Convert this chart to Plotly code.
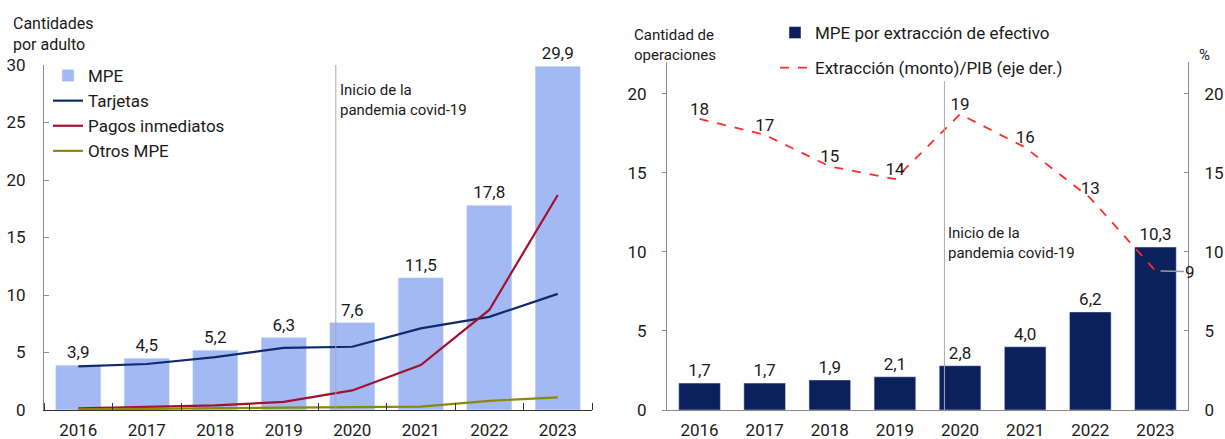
import plotly.graph_objects as go

years = ["2016", "2017", "2018", "2019", "2020", "2021", "2022", "2023"]

# Left chart
mpe = [3.9, 4.5, 5.2, 6.3, 7.6, 11.5, 17.8, 29.9]
tarjetas = [3.8, 4.0, 4.6, 5.4, 5.5, 7.1, 8.1, 10.1]
pagos_inmediatos = [0.15, 0.25, 0.4, 0.7, 1.7, 3.9, 8.7, 18.7]
otros_mpe = [0.05, 0.1, 0.15, 0.2, 0.25, 0.3, 0.8, 1.1]

# Right chart
mpe_extraccion = [1.7, 1.7, 1.9, 2.1, 2.8, 4.0, 6.2, 10.3]
extraccion_pib = [18.4, 17.4, 15.4, 14.6, 18.7, 16.6, 13.4, 8.8]
extraccion_labels = ["18", "17", "15", "14", "19", "16", "13", "9"]

idx = list(range(len(years)))

FONT = "Roboto"
TXT = "#1a1a1a"
AX = "#8c8c8c"
FS = 17

fig = go.Figure()

fig.add_trace(go.Bar(x=idx, y=mpe, name="MPE", marker_color="#A2B9F4",
                     width=0.66, texttemplate="%{y:.1f}", textposition="outside",
                     textfont=dict(size=FS, color=TXT), cliponaxis=False,
                     xaxis="x", yaxis="y", legend="legend"))
fig.add_trace(go.Scatter(x=idx, y=tarjetas, name="Tarjetas", mode="lines",
                         line=dict(color="#10296B", width=2.2), xaxis="x", yaxis="y", legend="legend"))
fig.add_trace(go.Scatter(x=idx, y=pagos_inmediatos, name="Pagos inmediatos", mode="lines",
                         line=dict(color="#A4112F", width=2.2), xaxis="x", yaxis="y", legend="legend"))
fig.add_trace(go.Scatter(x=idx, y=otros_mpe, name="Otros MPE", mode="lines",
                         line=dict(color="#8C8A00", width=2.2), xaxis="x", yaxis="y", legend="legend"))

fig.add_trace(go.Bar(x=idx, y=mpe_extraccion, name="MPE por extracción de efectivo",
                     marker_color="#0B205C", width=0.64, texttemplate="%{y:.1f}",
                     textposition="outside", textfont=dict(size=FS, color=TXT),
                     cliponaxis=False, xaxis="x2", yaxis="y2", legend="legend2",
                     legendgroup="a"))
line_text = extraccion_labels[:-1] + [""]
fig.add_trace(go.Scatter(x=idx, y=extraccion_pib, name="Extracción (monto)/PIB (eje der.)",
                         mode="lines+text", text=line_text, textposition="top center",
                         textfont=dict(size=FS, color=TXT),
                         line=dict(color="#FF2A2A", width=1.8, dash="dash"),
                         cliponaxis=False, xaxis="x2", yaxis="y3", legend="legend2",
                         legendgroup="b"))

# last point label with leader
fig.add_annotation(x=idx[-1], y=extraccion_pib[-1], xref="x2", yref="y3",
                   text=extraccion_labels[-1], showarrow=True, arrowhead=0,
                   arrowcolor="#9a9a9a", arrowwidth=1.5, ax=35, ay=1, standoff=5,
                   font=dict(size=FS, color=TXT))

ydom = [29 / 439, (439 - 65) / 439]
ydom2 = [29 / 439, (439 - 62) / 439]

fig.update_layout(
    width=1225, height=439,
    margin=dict(l=0, r=0, t=0, b=0, autoexpand=False),
    paper_bgcolor="white", plot_bgcolor="white",
    font=dict(family=FONT, color=TXT, size=FS),
    separators=",.",
    showlegend=True,
    xaxis=dict(domain=[44 / 1225, 592 / 1225], range=[-0.5, 7.5],
               tickvals=idx, ticktext=years, ticks="", showline=True,
               linecolor="#333", linewidth=1.2, tickfont=dict(size=FS), showgrid=False,
               zeroline=False, ticklabelstandoff=4,
               minor=dict(tick0=0.5, dtick=1, ticks="inside", ticklen=7, tickcolor="#333",
                          showgrid=False),
               anchor="y"),
    yaxis=dict(domain=ydom, range=[0, 30], dtick=5, showline=True, linecolor=AX,
               ticks="inside", ticklen=5, tickcolor=AX, tickfont=dict(size=FS),
               showgrid=False, zeroline=False, anchor="x", ticklabelstandoff=14),
    xaxis2=dict(domain=[667 / 1225, 1188 / 1225], range=[-0.5, 7.5],
                tickvals=idx, ticktext=years, ticks="", showline=True,
                linecolor="#888", linewidth=1.2, tickfont=dict(size=FS),
                showgrid=False, zeroline=False, ticklabelstandoff=4, anchor="y2"),
    yaxis2=dict(domain=ydom2, range=[0, 22], tickvals=[0, 5, 10, 15, 20], showline=True,
                linecolor=AX, ticks="outside", ticklen=4, tickcolor=AX,
                tickfont=dict(size=FS), showgrid=False, zeroline=False, anchor="x2",
                ticklabelstandoff=12),
    yaxis3=dict(domain=ydom2, range=[0, 22], tickvals=[0, 5, 10, 15, 20], showline=True,
                linecolor=AX, ticks="inside", ticklen=4, tickcolor=AX,
                tickfont=dict(size=FS), showgrid=False, zeroline=False,
                overlaying="y2", side="right", anchor="x2", ticklabelstandoff=12),
    legend=dict(x=48 / 1225, y=(439 - 58) / 439, xanchor="left", yanchor="top",
                bgcolor="rgba(0,0,0,0)", font=dict(size=FS), itemwidth=30,
                tracegroupgap=0),
    legend2=dict(x=775 / 1225, y=(439 - 15) / 439, xanchor="left", yanchor="top",
                 bgcolor="rgba(0,0,0,0)", font=dict(size=FS), itemwidth=30,
                 traceorder="grouped", tracegroupgap=10),
)

# pandemic start markers
for xr, yr, ytop, ytext in [("x", "y", 30.3, 28.8), ("x2", "y2", 20.8, 11.9)]:
    fig.add_shape(type="line", xref=xr, yref=yr, x0=3.76, x1=3.76, y0=0, y1=ytop,
                  line=dict(color="#aaaaaa", width=1))
    fig.add_annotation(xref=xr, yref=yr, x=3.76, y=ytext, xanchor="left", yanchor="top",
                       xshift=2, text="Inicio de la<br>pandemia covid-19", showarrow=False,
                       align="left", font=dict(size=15, color=TXT))

# axis titles
fig.add_annotation(xref="paper", yref="paper", x=11 / 1225, y=(439 - 12) / 439,
                   xanchor="left", yanchor="top", align="left", showarrow=False,
                   text="Cantidades<br>por adulto", font=dict(size=16, color=TXT))
fig.add_annotation(xref="paper", yref="paper", x=632 / 1225, y=(439 - 24) / 439,
                   xanchor="left", yanchor="top", align="left", showarrow=False,
                   text="Cantidad de<br>operaciones", font=dict(size=15, color=TXT))
fig.add_annotation(xref="paper", yref="paper", x=1197 / 1225, y=(439 - 44) / 439,
                   xanchor="left", yanchor="top", align="left", showarrow=False,
                   text="%", font=dict(size=15, color=TXT))

fig.write_html("out.html", config={"displayModeBar": False},
               post_script="document.body.style.margin='0';document.body.style.overflow='hidden';")
